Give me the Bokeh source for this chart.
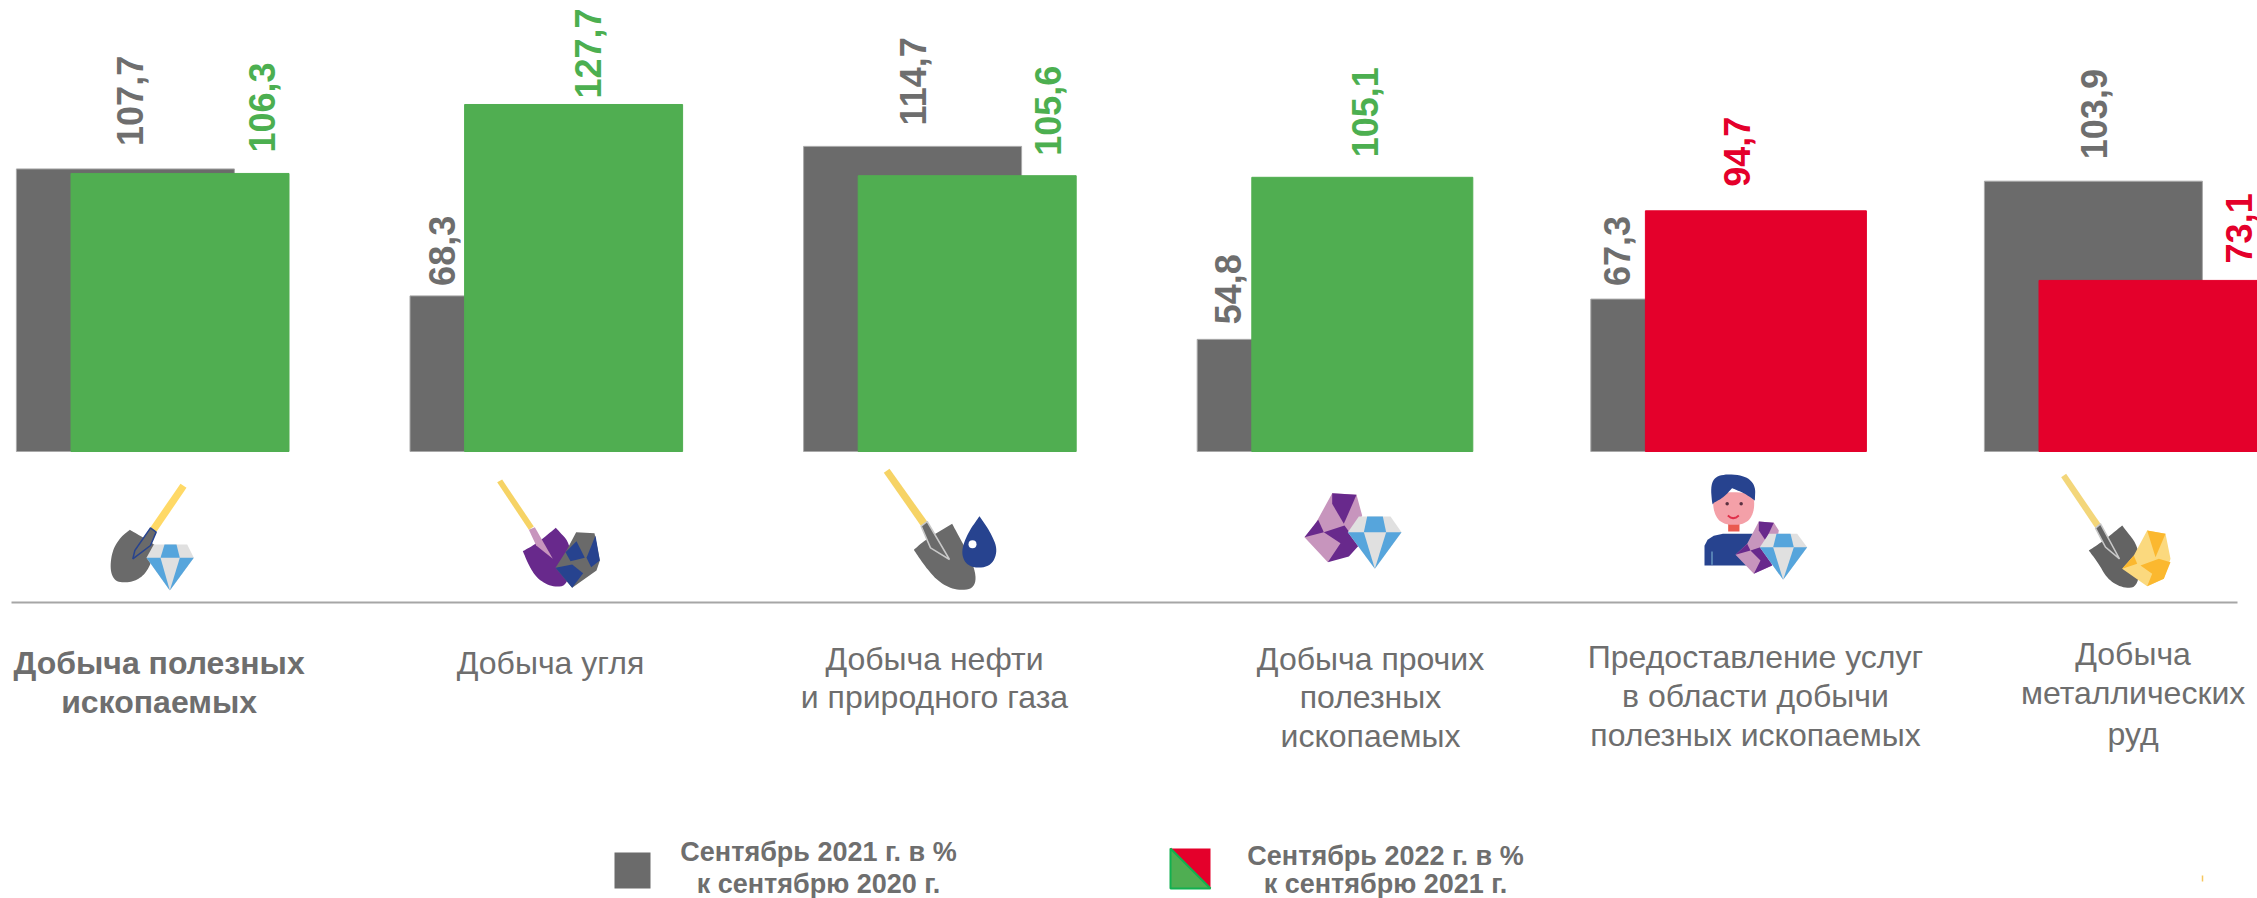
from bokeh.plotting import figure
from bokeh.models import Range1d
from bokeh.core.properties import value
from bokeh.embed import file_html
from bokeh.resources import INLINE
import math

# ---- data ----
categories = [
    ["Добыча полезных", "ископаемых"],
    ["Добыча угля"],
    ["Добыча нефти", "и природного газа"],
    ["Добыча прочих", "полезных", "ископаемых"],
    ["Предоставление услуг", "в области добычи", "полезных ископаемых"],
    ["Добыча", "металлических", "руд"],
]
sep_2021 = [107.7, 68.3, 114.7, 54.8, 67.3, 103.9]
sep_2022 = [106.3, 127.7, 105.6, 105.1, 94.7, 73.1]
legend_2021 = ["Сентябрь 2021 г. в %", "к сентябрю 2020 г."]
legend_2022 = ["Сентябрь 2022 г. в %", "к сентябрю 2021 г."]

# ---- layout (image pixels) ----
W, H = 2257, 898
STEP = 393.6
BASE = 20.0
K = 3.222
BASE_PY = 451.0
GREY_C = 124.9
OFFSET = 54.6 / STEP
BAR_W = 218 / STEP
cur_w_px = [218, 218, 218, 221, 221, 218]
cur_shift_px = [0, 0, 0, 1.5, 1.5, 0]
grey_dx = [5, -77.5, 0, -78, -82.7, 1]
grey_gap = [23, 10, 21, 15, 13, 22]
cur_dx = [81.5, 14, 81, 4, -17, 90.5]
cur_gap = [21, 6, 20, 20, 24, 17]
cat_cx = [158.6, 550, 934, 1370, 1755, 2132.6]
cat_py = [[662.7, 701], [662.7], [658, 696.7], [658, 696.7, 735],
          [656.7, 695.7, 734], [653, 692, 733]]
cat_weight = ["bold", "normal", "normal", "normal", "normal", "normal"]

GREY, GREEN, RED = "#6b6b6b", "#50ae51", "#e4002b"
TXT = "#6e6e6e"
FONT = value("Liberation Sans")


def X(px):
    return (px - GREY_C) / STEP


def Y(py):
    return BASE + (BASE_PY - py) / K


p = figure(width=W, height=H, output_backend="svg", toolbar_location=None,
           x_range=Range1d(X(0), X(2257)), y_range=Range1d(Y(898), Y(0)),
           min_border=0, outline_line_color=None, background_fill_color="white")
p.axis.visible = False
p.grid.visible = False

# bars
idx = list(range(len(sep_2021)))
p.vbar(x=idx, bottom=BASE, top=sep_2021, width=BAR_W, fill_color=GREY, line_color="#a8a8a8", line_width=1)
cols = [GREEN if v >= 100 else RED for v in sep_2022]
cur_x = [i + OFFSET + s / STEP for i, s in zip(idx, cur_shift_px)]
p.vbar(x=cur_x, bottom=BASE, top=sep_2022, width=[w / STEP for w in cur_w_px],
       fill_color=cols, line_color=cols, line_width=1)


def fmt(v):
    return f"{v:.1f}".replace(".", ",")


# value labels
p.text(x=idx, y=sep_2021, text=[fmt(v) for v in sep_2021], angle=math.pi / 2,
       x_offset=grey_dx, y_offset=[-g for g in grey_gap], text_color=TXT,
       text_font=FONT, text_font_style="bold", text_font_size="36px",
       text_align="left", text_baseline="middle")
p.text(x=[i + OFFSET for i in idx], y=sep_2022, text=[fmt(v) for v in sep_2022], angle=math.pi / 2,
       x_offset=cur_dx, y_offset=[-g for g in cur_gap], text_color=["#4caf50" if c == GREEN else RED for c in cols],
       text_font=FONT, text_font_style="bold", text_font_size="36px",
       text_align="left", text_baseline="middle")

# separator
p.line([X(11), X(2237)], [Y(602), Y(602)], line_color="#a6a6a6", line_width=2)

# category labels
for lines, cx, pys, w in zip(categories, cat_cx, cat_py, cat_weight):
    p.text(x=[X(cx)] * len(lines), y=[Y(v) for v in pys], text=lines, text_color=TXT,
           text_font=FONT, text_font_style=w, text_font_size="32px",
           text_align="center", text_baseline="middle")

# legend
p.patch([X(v) for v in (614, 650, 650, 614)], [Y(v) for v in (852, 852, 888, 888)], fill_color=GREY, line_color=None)
p.text(x=[X(818)] * 2, y=[Y(851.7), Y(883)], text=legend_2021, text_color=TXT, text_font=FONT,
       text_font_style="bold", text_font_size="27px", text_align="center", text_baseline="middle")
p.patch([X(v) for v in (1170, 1210, 1210, 1170)], [Y(v) for v in (848, 848, 888, 888)], fill_color=RED, line_color=None)
p.patch([X(v) for v in (1170, 1210, 1170)], [Y(v) for v in (848, 888, 888)], fill_color="#4fae52", line_color="#12b050", line_width=2)
p.text(x=[X(1385)] * 2, y=[Y(855), Y(883)], text=legend_2022, text_color=TXT, text_font=FONT,
       text_font_style="bold", text_font_size="27px", text_align="center", text_baseline="middle")
p.line([X(2202), X(2202)], [Y(875), Y(881)], line_color="#f6c75e", line_width=1.5)


# ---- icons: traced in 3x crop coordinates relative to an origin ----
def round_off(pts, n=3):
    # corner cutting so traced outlines read as curves; repeated points stay sharp
    for _ in range(n):
        out = []
        for (a, b), (c, d) in zip(pts, pts[1:] + pts[:1]):
            out.append((0.75 * a + 0.25 * c, 0.75 * b + 0.25 * d))
            out.append((0.25 * a + 0.75 * c, 0.25 * b + 0.75 * d))
        pts = out
    return pts


def shape(ox, oy, color, pts, line=None, lw=1):
    p.patch([X(ox + a / 3) for a, b in pts], [Y(oy + b / 3) for a, b in pts],
            fill_color=color, line_color=line, line_width=lw)


def diamond(ox, oy, tl, tr, ml, mr, bot, ctl, ctr, cml, cmr):
    shape(ox, oy, "#e0e0e0", [tl, tr, mr, bot, ml])
    shape(ox, oy, "#56a5dc", [ctl, ctr, cmr, cml])
    shape(ox, oy, "#56a5dc", [ml, cml, bot])
    shape(ox, oy, "#56a5dc", [cmr, mr, bot])


DARK = "#6a6a6a"
YEL = "#ffd966"
NAVY = "#27438f"
PURP = "#68298c"
PINK = "#c795bd"

# 1. shovel + diamond
o = (100, 470)
shape(*o, DARK, round_off([(88, 178), (88, 178), (88, 178), (135, 205), (165, 225), (165, 225), (150, 285), (125, 320), (90, 336), (45, 335), (28, 300), (35, 240), (60, 200)]))
shape(*o, YEL, [(240, 40), (258, 52), (167, 185), (150, 170)])
shape(*o, DARK, [(150, 172), (167, 185), (150, 225), (97, 265), (103, 240)], line=NAVY, lw=1.5)
diamond(*o, (160, 222), (260, 222), (138, 262), (280, 262), (208, 360), (192, 222), (228, 222), (180, 262), (238, 262))

# 2. shovel + coal
o = (490, 470)
shape(*o, "#f6d365", [(20, 35), (35, 27), (130, 168), (115, 178)])
shape(*o, PURP, round_off([(97, 242), (97, 242), (97, 242), (140, 218), (196, 172), (196, 172), (196, 172), (245, 225), (235, 345), (185, 350), (140, 325), (115, 285)]))
shape(*o, PINK, [(115, 178), (133, 170), (187, 265), (137, 225)])
shape(*o, DARK, [(257, 185), (312, 188), (328, 270), (318, 300), (245, 352), (195, 292), (228, 240)])
shape(*o, NAVY, [(258, 212), (283, 262), (240, 272), (225, 245)])
shape(*o, NAVY, [(315, 195), (328, 270), (302, 290), (288, 262)])
shape(*o, NAVY, [(195, 292), (245, 282), (278, 308), (245, 352)])

# 3. shovel + oil
o = (875, 460)
shape(*o, "#f6d365", [(25, 37), (42, 25), (155, 183), (137, 197)])
shape(*o, DARK, round_off([(115, 268), (115, 268), (115, 268), (150, 237), (230, 190), (230, 190), (230, 190), (300, 320), (300, 385), (240, 390), (190, 365), (150, 320)]))
shape(*o, DARK, [(137, 197), (155, 183), (222, 297), (165, 262)], line="#c8c8c8", lw=1.5)
shape(*o, NAVY, round_off([(312, 167), (312, 167), (312, 167), (345, 215), (368, 270), (345, 320), (280, 322), (255, 280), (275, 220)]))
p.scatter([X(875 + 291 / 3)], [Y(460 + 251 / 3)], size=8, marker="circle", fill_color="white", line_color=None)

# 4. other minerals
o = (1295, 480)
shape(*o, PINK, [(110, 38), (183, 43), (200, 105), (160, 190), (97, 245), (27, 170), (60, 130)])
shape(*o, PURP, [(110, 38), (183, 43), (145, 130), (110, 70)])
shape(*o, PURP, [(68, 118), (85, 155), (27, 170)])
shape(*o, PURP, [(85, 155), (147, 135), (190, 195), (160, 228), (97, 245), (135, 188)])
diamond(*o, (190, 108), (285, 108), (157, 155), (318, 155), (238, 265), (215, 108), (262, 108), (205, 155), (272, 155))

# 5. worker + minerals
o = (1690, 465)
shape(*o, NAVY, round_off([(42, 205), (190, 205), (190, 205), (190, 300), (190, 300), (42, 300), (42, 300)], 2))
shape(*o, "#5f8dbb", [(62, 258), (67, 258), (67, 298), (62, 298)])
shape(*o, "#ea5a4f", [(113, 170), (147, 170), (147, 198), (113, 198)])
shape(*o, "#f4a0a8", round_off([(68, 80), (190, 80), (192, 140), (165, 178), (95, 178), (68, 140)]))
shape(*o, NAVY, round_off([(65, 120), (60, 50), (90, 25), (165, 30), (195, 60), (193, 105), (193, 105), (165, 85), (125, 68), (125, 68), (100, 95), (70, 112), (70, 112)]))
p.scatter([X(1690 + 110 / 3), X(1690 + 152 / 3)], [Y(465 + 115 / 3)] * 2, size=3.5, marker="circle", fill_color="#5a3040", line_color=None)
p.line([X(1690 + a / 3) for a in (112, 120, 128, 137, 145)], [Y(465 + b / 3) for b in (150, 156, 158, 156, 150)], line_color="#e0304a", line_width=2)
shape(*o, PINK, [(205, 168), (250, 172), (265, 195), (245, 300), (190, 325), (135, 268), (170, 235)])
shape(*o, PURP, [(205, 168), (250, 172), (225, 225), (205, 195)])
shape(*o, PURP, [(170, 235), (180, 255), (135, 268)])
shape(*o, PURP, [(180, 255), (225, 240), (245, 300), (190, 325), (210, 285)])
diamond(*o, (235, 205), (320, 205), (208, 245), (350, 245), (278, 343), (258, 205), (300, 205), (248, 245), (310, 245))

# 6. shovel + gold
o = (2050, 465)
shape(*o, "#f3d67a", [(32, 35), (47, 25), (150, 175), (135, 188)])
shape(*o, "#636363", round_off([(115, 255), (115, 255), (115, 255), (160, 225), (215, 180), (215, 180), (215, 180), (270, 250), (265, 365), (215, 368), (170, 340), (145, 295)]))
shape(*o, "#636363", [(135, 188), (150, 175), (207, 280), (165, 245)], line="#c8c8c8", lw=1.5)
shape(*o, "#fbd97e", [(290, 195), (345, 205), (360, 280), (340, 340), (290, 362), (215, 310), (250, 270)])
shape(*o, "#fbb82f", [(290, 195), (345, 205), (315, 275)])
shape(*o, "#fbb82f", [(215, 310), (250, 270), (260, 295)])
shape(*o, "#fbb82f", [(270, 300), (325, 280), (360, 290), (340, 340), (290, 362), (305, 325)])

open("out.html", "w").write(file_html(p, INLINE))
